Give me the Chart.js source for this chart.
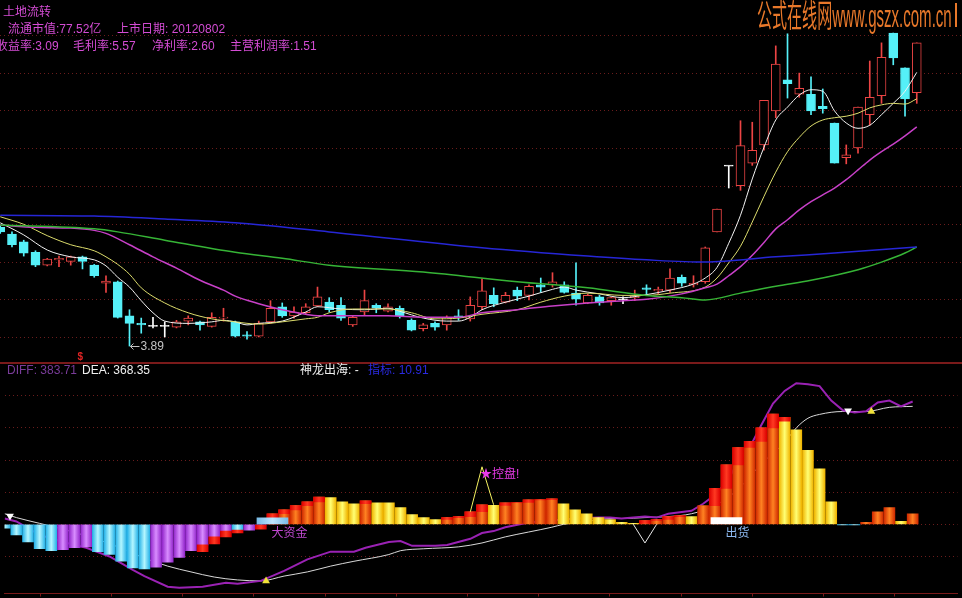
<!DOCTYPE html>
<html>
<head>
<meta charset="utf-8">
<script src="https://cdn.jsdelivr.net/npm/chart.js@4.4.1/dist/chart.umd.min.js"></script>
<style>
  body { margin: 0; background: #000; }
  #wrap { position: relative; width: 962px; height: 598px; background: #000; overflow: hidden;
          font-family: "Liberation Sans", "Noto Sans CJK SC", sans-serif; }
  #top { position: absolute; left: 0; top: 0; }
  #bot { position: absolute; left: 0; top: 364px; }
  #sep { position: absolute; left: 0; top: 362px; width: 962px; height: 2px; background: #7a1a1a; }
  .t { position: absolute; white-space: nowrap; font-size: 12px; line-height: 14px; }
  .hd { color: #d44cd4; }
  #wm { position: absolute; left: 757px; top: 0; font-size: 32px; line-height: 32px; color: #e8782a;
        white-space: nowrap; transform: scaleX(0.47); transform-origin: 0 0; }
  #wmbar { position: absolute; left: 955px; top: 3px; width: 2px; height: 24px; background: #e8782a; }
</style>
</head>
<body>
<div id="wrap">
  <canvas id="top" width="962" height="362"></canvas>
  <div id="sep"></div>
  <canvas id="bot" width="962" height="234"></canvas>

  <div class="t hd" style="left:3px;top:5px">土地流转</div>
  <div class="t hd" style="left:8px;top:22px">流通市值:77.52亿</div>
  <div class="t hd" style="left:117px;top:22px">上市日期: 20120802</div>
  <div class="t hd" style="left:-4px;top:39px">收益率:3.09</div>
  <div class="t hd" style="left:73px;top:39px">毛利率:5.57</div>
  <div class="t hd" style="left:152px;top:39px">净利率:2.60</div>
  <div class="t hd" style="left:230px;top:39px">主营利润率:1.51</div>
  <div id="wm">公式在线网www.gszx.com.cn</div>
  <div id="wmbar"></div>

  <div class="t" style="left:7px;top:363px;color:#7a3c9a">DIFF: 383.71</div>
  <div class="t" style="left:82px;top:363px;color:#f0f0f0">DEA: 368.35</div>
  <div class="t" style="left:300px;top:363px;color:#f0f0f0">神龙出海: -</div>
  <div class="t" style="left:368px;top:363px;color:#2a2ae0">指标: 10.91</div>

  <div class="t" id="lowTxt" style="color:#c4c4c4">3.89</div>
  <div class="t" id="sigTxt" style="color:#e02424;font-size:10px;font-weight:bold">$</div>
  <div class="t" id="kpTxt" style="color:#e83ae8">★控盘!</div>
  <div class="t" id="dzjTxt" style="color:#c048d0">大资金</div>
  <div class="t" id="chTxt" style="color:#8cb8f0">出货</div>
</div>

<script>
// daily candles
const open = [
  5.46, 5.37, 5.27, 5.13, 4.96, 5.03, 5.01, 5.07, 4.96, 4.72,
  4.74, 4.29, 4.19, 4.15, 4.15, 4.14, 4.22, 4.21, 4.15, 4.26,
  4.21, 4.04, 4.02, 4.21, 4.41, 4.29, 4.33, 4.42, 4.47, 4.43,
  4.17, 4.34, 4.43, 4.35, 4.39, 4.23, 4.12, 4.19, 4.17, 4.29,
  4.25, 4.41, 4.56, 4.47, 4.63, 4.56, 4.70, 4.70, 4.70, 4.59,
  4.46, 4.54, 4.49, 4.50, 4.53, 4.66, 4.62, 4.63, 4.80, 4.70,
  4.74, 5.40, 6.27, 6.01, 6.31, 6.55, 7.00, 7.41, 7.22, 7.22,
  7.06, 6.84, 6.38, 6.51, 6.95, 7.20, 8.03, 7.57, 7.24
];
const close = [
  5.40, 5.23, 5.12, 4.96, 5.04, 5.05, 5.07, 5.01, 4.82, 4.75,
  4.27, 4.19, 4.17, 4.15, 4.15, 4.21, 4.26, 4.17, 4.27, 4.27,
  4.02, 4.02, 4.19, 4.39, 4.29, 4.34, 4.41, 4.54, 4.37, 4.26,
  4.27, 4.49, 4.39, 4.41, 4.29, 4.10, 4.17, 4.14, 4.27, 4.27,
  4.43, 4.62, 4.45, 4.56, 4.55, 4.68, 4.67, 4.74, 4.60, 4.51,
  4.56, 4.46, 4.53, 4.50, 4.55, 4.64, 4.64, 4.79, 4.72, 4.72,
  5.19, 5.70, 6.27, 6.54, 6.48, 7.14, 7.62, 7.36, 7.30, 7.00,
  7.03, 6.31, 6.42, 7.05, 7.18, 7.71, 7.70, 7.16, 7.90
];
const high = [
  5.48, 5.40, 5.29, 5.15, 5.05, 5.08, 5.08, 5.08, 4.97, 4.82,
  4.75, 4.37, 4.26, 4.27, 4.21, 4.23, 4.29, 4.22, 4.33, 4.39,
  4.22, 4.08, 4.22, 4.49, 4.46, 4.41, 4.45, 4.67, 4.53, 4.53,
  4.29, 4.63, 4.45, 4.45, 4.42, 4.25, 4.19, 4.21, 4.29, 4.37,
  4.54, 4.78, 4.66, 4.60, 4.67, 4.70, 4.79, 4.86, 4.74, 4.99,
  4.58, 4.56, 4.54, 4.54, 4.63, 4.70, 4.67, 4.91, 4.83, 4.82,
  5.20, 5.70, 6.27, 6.87, 6.85, 7.14, 7.86, 8.02, 7.50, 7.45,
  7.29, 6.84, 6.55, 7.05, 7.66, 7.90, 8.03, 7.57, 7.90
];
const low = [
  5.38, 5.20, 5.08, 4.94, 4.95, 4.94, 4.96, 4.91, 4.80, 4.60,
  4.26, 3.89, 4.06, 4.13, 4.01, 4.13, 4.17, 4.10, 4.14, 4.22,
  4.01, 3.98, 4.01, 4.19, 4.27, 4.26, 4.31, 4.41, 4.34, 4.23,
  4.15, 4.30, 4.33, 4.34, 4.26, 4.09, 4.09, 4.10, 4.10, 4.23,
  4.22, 4.37, 4.41, 4.46, 4.49, 4.50, 4.60, 4.67, 4.59, 4.43,
  4.45, 4.43, 4.43, 4.45, 4.49, 4.56, 4.58, 4.60, 4.68, 4.67,
  4.72, 5.40, 5.98, 5.95, 6.28, 6.48, 6.91, 7.17, 7.18, 6.95,
  6.97, 6.31, 6.30, 6.44, 6.81, 7.10, 7.61, 6.93, 7.10
];

// moving averages as [day, price], read at the days where they bend
const ma5 = [[0,5.52],[2,5.36],[4,5.16],[6,5.07],[8,5.03],[9,4.95],[10,4.80],[11,4.67],[12,4.49],[13,4.33],
  [14,4.22],[16,4.19],[18,4.21],[19,4.23],[20,4.21],[21,4.17],[22,4.19],[24,4.22],[26,4.34],[27,4.41],
  [29,4.38],[31,4.37],[33,4.39],[34,4.35],[36,4.26],[38,4.22],[39,4.22],[40,4.27],[41,4.37],[43,4.47],
  [45,4.55],[47,4.64],[48,4.67],[49,4.63],[51,4.58],[53,4.53],[55,4.57],[57,4.63],[59,4.71],[60,4.79],
  [61,4.93],[62,5.25],[63,5.62],[64,6.10],[65,6.52],[66,6.88],[67,7.05],[68,7.21],[69,7.28],[70,7.26],
  [71,7.00],[72,6.84],[73,6.77],[74,6.81],[75,6.95],[76,7.10],[77,7.26],[78,7.51]];
const ma10 = [[0,5.60],[2,5.50],[4,5.35],[6,5.23],[8,5.15],[9,5.07],[10,4.97],[11,4.84],[12,4.66],[14,4.46],
  [16,4.33],[18,4.25],[20,4.21],[22,4.18],[24,4.21],[26,4.25],[27,4.27],[28,4.33],[30,4.38],[33,4.38],
  [35,4.33],[37,4.25],[39,4.26],[41,4.31],[44,4.37],[46,4.47],[48,4.55],[50,4.59],[53,4.56],[55,4.56],
  [57,4.59],[60,4.67],[61,4.79],[62,4.99],[63,5.21],[64,5.53],[65,5.87],[66,6.19],[67,6.46],[68,6.65],
  [69,6.80],[70,6.88],[71,6.91],[72,6.93],[73,6.97],[74,7.04],[75,7.08],[76,7.10],[77,7.09],[78,7.16]];
const ma20 = [[0,5.49],[3,5.46],[6,5.45],[8,5.42],[9,5.38],[11,5.23],[13,5.07],[15,4.92],[17,4.76],[19,4.63],
  [20,4.55],[22,4.45],[24,4.37],[26,4.31],[27,4.29],[33,4.29],[36,4.27],[39,4.27],[41,4.33],[44,4.37],
  [47,4.42],[50,4.46],[53,4.49],[55,4.51],[58,4.58],[60,4.66],[61,4.71],[62,4.82],[63,4.94],[64,5.09],
  [65,5.26],[66,5.44],[67,5.56],[68,5.69],[69,5.80],[70,5.89],[71,5.98],[72,6.09],[73,6.22],[74,6.35],
  [75,6.46],[76,6.56],[77,6.67],[78,6.79]];
const ma60 = [[0,5.49],[8,5.44],[10,5.40],[14,5.29],[20,5.13],[24,5.05],[28,4.96],[36,4.87],[44,4.74],[50,4.66],
  [55,4.56],[58,4.53],[60,4.50],[63,4.59],[66,4.68],[69,4.76],[73,4.90],[75,5.00],[77,5.12],[78,5.20]];
const ma120 = [[0,5.62],[8,5.61],[14,5.57],[20,5.52],[28,5.40],[41,5.19],[50,5.08],[55,5.03],[60,5.00],[66,5.07],
  [71,5.12],[78,5.20]];
const priceGrid = [4, 4.5, 5, 5.5, 6, 6.5, 7, 7.5, 8];

// lower panel: histogram, its colour kind (c cyan, v violet, o orange, y yellow) and red caps [day, from, to]
const hist = [
  -12, -33, -55, -76, -82, -79, -73, -70, -85, -94,
  -115, -136, -139, -133, -118, -103, -82, -64, -39, -21,
  -18, -18, -2, 33, 45, 58, 70, 85, 83, 70,
  64, 73, 67, 67, 52, 30, 21, 15, 21, 24,
  39, 61, 59, 67, 68, 76, 77, 79, 64, 45,
  33, 21, 15, 6, 3, 12, 15, 24, 27, 24,
  58, 112, 185, 239, 258, 300, 343, 333, 294, 230,
  173, 70, -1, -1, 6, 39, 52, 9, 33
];
const histKind = 'cccccvvvcccccvvvvvvvcvvoooooyyyoyyyyyyooooyoooooyyyyyyyooooyoooooooyyyyyccoooyo'.split('');
const histCaps = [[17,-64,-85],[18,-39,-61],[19,-21,-39],[20,-18,-27],[22,-2,-15],
  [23,0,33],[24,33,45],[25,45,58],[26,58,70],[27,70,85],[31,64,73],[38,15,21],[39,21,24],[40,24,39],[41,39,61],
  [43,59,67],[44,67,68],[45,68,76],[46,76,77],[47,77,79],[55,3,12],[56,12,15],[57,15,24],[58,24,27],
  [61,58,112],[62,112,185],[63,185,239],[64,239,258],[65,258,300],[66,300,343],[67,321,333]];
const bigMoney = [23, 20];   // 大资金
const shipOut = [62, 21];    // 出货
const diff = [[0,18],[1,9],[3,-33],[5,-55],[7,-73],[9,-100],[11,-142],[12,-161],[14,-194],[15,-197],
  [17,-194],[19,-182],[20,-185],[22,-176],[24,-145],[26,-109],[28,-85],[30,-85],[31,-73],[33,-55],
  [34,-52],[35,-67],[37,-67],[38,-64],[40,-45],[41,-27],[42,-21],[43,-9],[45,6],[47,12],[49,18],[51,21],
  [52,21],[53,18],[55,24],[56,21],[57,33],[59,42],[60,64],[61,91],[62,130],[63,194],[64,239],[65,309],
  [66,376],[67,415],[68,439],[69,436],[70,430],[71,385],[72,355],[73,348],[74,352],[75,379],[76,385],
  [77,367],[78,382]];
const dea = [[0,33],[1,21],[3,3],[6,-25],[9,-60],[12,-105],[14,-130],[16,-148],[18,-164],[20,-173],
  [22,-176],[24,-161],[26,-148],[28,-130],[30,-115],[33,-94],[34,-82],[36,-76],[39,-70],[41,-58],
  [43,-39],[45,-24],[47,-9],[48,0],[50,9],[52,18],[53,18],[55,21],[57,24],[59,33],[61,58],[63,109],
  [65,188],[67,255],[68,300],[69,330],[70,342],[72,351],[74,351],[76,364],[78,367]];
const kongPan = [[40,39],[41,179],[42,61]];
const dip = [[54,0],[55,-58],[56,0]];
const crossIdx = [0, 22, 72, 74];
const crossVal = [26, -176, 353, 351];
const crossUp = [false, true, false, true];
const macdGrid = [-100, 0, 100, 200, 300, 400];

// ---- drawing ----
const X_MIN = -0.02, X_MAX = 81.85;
const GRID = '#6a1c1c';
const UP = '#ec4444', DOWN = '#55f0f8', FLAT = '#ffffff';
const idx = open.map((_, i) => i);
const cColor = idx.map(i => close[i] > open[i] ? UP : (close[i] < open[i] ? DOWN : FLAT));
const pts = arr => arr.map(([x, y]) => ({ x, y }));

function line(data, color, w, order, smooth) {
  return { type: 'line', data: pts(data), borderColor: color, borderWidth: w, pointRadius: 0,
           cubicInterpolationMode: smooth ? 'monotone' : 'default', tension: 0, order };
}

const hiddenX = { type: 'linear', min: X_MIN, max: X_MAX, offset: false, display: false };

const lowMark = {
  id: 'lowMark',
  afterDatasetsDraw(chart) {
    const i = low.indexOf(Math.min(...low));
    const x = chart.scales.x.getPixelForValue(i), y = Math.round(chart.scales.y.getPixelForValue(low[i])) + 0.5;
    const ctx = chart.ctx;
    ctx.save();
    ctx.strokeStyle = '#c4c4c4';
    ctx.lineWidth = 1;
    ctx.beginPath();
    ctx.moveTo(x + 1, y); ctx.lineTo(x + 10, y);
    ctx.moveTo(x + 4, y - 3); ctx.lineTo(x + 1, y); ctx.lineTo(x + 4, y + 3);
    ctx.stroke();
    ctx.restore();
  }
};

const topChart = new Chart(document.getElementById('top'), {
  type: 'bar',
  data: { datasets: [
    line(ma120, '#2626d6', 1.5, 0, true),
    line(ma60, '#36b436', 1.5, 0, true),
    line(ma20, '#c840c8', 1.5, 0, true),
    line(ma10, '#dcdc6c', 1, 0, true),
    line(ma5, '#f2f2f2', 1, 0, true),
    { data: idx.map(i => ({ x: i, y: [open[i], close[i]] })),
      backgroundColor: idx.map(i => close[i] > open[i] ? '#000000' : cColor[i]),
      borderColor: cColor, borderWidth: 1, borderSkipped: false,
      barThickness: 9, minBarLength: 1, grouped: false, order: 1 },
    { data: idx.map(i => ({ x: i, y: [low[i], high[i]] })),
      backgroundColor: cColor, barThickness: 1, grouped: false, order: 2 }
  ]},
  options: {
    responsive: false, animation: false, events: [], devicePixelRatio: 1,
    layout: { padding: 0 },
    plugins: { legend: { display: false }, tooltip: { enabled: false } },
    scales: {
      x: hiddenX,
      y: { min: 3.679, max: 8.467,
           grid: { color: GRID, drawTicks: false }, border: { display: false, dash: [1, 3] },
           ticks: { display: false },
           afterBuildTicks: s => { s.ticks = priceGrid.map(v => ({ value: v })); } }
    }
  },
  plugins: [lowMark]
});

function cyl(edge, mid, w) {
  return c => {
    if (c.type !== 'data' || !c.chart.chartArea) return edge;
    const x = c.chart.scales.x.getPixelForValue(c.raw.x);
    const g = c.chart.ctx.createLinearGradient(x - w / 2, 0, x + w / 2, 0);
    g.addColorStop(0, edge); g.addColorStop(0.5, mid); g.addColorStop(1, edge);
    return g;
  };
}
const kindFill = {
  c: cyl('#26b2e8', '#b4f6ff', 11),
  v: cyl('#9428cc', '#d88cff', 11),
  o: cyl('#d02a00', '#ff8222', 11),
  y: cyl('#f0b400', '#ffff74', 11)
};

const botChart = new Chart(document.getElementById('bot'), {
  type: 'bar',
  data: { datasets: [
    line(dea, '#d8d8d8', 1, 6, true),
    line(diff, '#9a22b4', 2, 5, false),
    { data: idx.map(i => ({ x: i, y: hist[i] })),
      backgroundColor: c => c.type === 'data' ? kindFill[histKind[c.dataIndex]](c) : '#000',
      barThickness: 11, grouped: false, order: 4 },
    { data: histCaps.map(([i, a, b]) => ({ x: i, y: [a, b] })),
      backgroundColor: cyl('#dc0000', '#ff3a22', 11), barThickness: 11, grouped: false, order: 3 },
    { data: [{ x: bigMoney[0], y: [0, bigMoney[1]] }], backgroundColor: cyl('#78bce8', '#bfe6ff', 31),
      barThickness: 31, grouped: false, order: 2 },
    { data: [{ x: shipOut[0], y: [0, shipOut[1]] }], backgroundColor: '#ffffff',
      barThickness: 31, grouped: false, order: 2 },
    line(kongPan, '#f4f060', 1, 1, false),
    line(dip, '#e8e8e8', 1, 1, false),
    { type: 'line', showLine: false, order: 0,
      data: crossIdx.map((d, k) => ({ x: d + 0.45, y: crossVal[k] })),
      pointStyle: 'triangle', pointRadius: 4.5, pointBorderWidth: 0,
      pointRotation: crossUp.map(u => u ? 0 : 180),
      pointBackgroundColor: crossUp.map(u => u ? '#f2e23a' : '#ffffff') }
  ]},
  options: {
    responsive: false, animation: false, events: [], devicePixelRatio: 1,
    layout: { padding: 0 },
    plugins: { legend: { display: false }, tooltip: { enabled: false } },
    scales: {
      x: { type: 'linear', min: X_MIN, max: X_MAX, offset: false,
           grid: { drawOnChartArea: false, drawTicks: true, tickLength: 3, color: '#7a1a1a' },
           border: { display: true, color: '#7a1a1a', width: 1 },
           ticks: { display: false },
           afterBuildTicks: s => {
             s.ticks = [];
             for (let k = 1; k * 71.9 < 962; k++) s.ticks.push({ value: X_MIN + k * 71.9 / 11.75 });
           } },
      y: { min: -215.2, max: 484.8,
           grid: { color: GRID, drawTicks: false }, border: { display: false, dash: [1, 3] },
           ticks: { display: false },
           afterBuildTicks: s => { s.ticks = macdGrid.map(v => ({ value: v })); } }
    }
  }
});

// text marks placed through the scales
function place(id, chart, xv, yv, dx, dy) {
  const el = document.getElementById(id);
  el.style.left = (chart.scales.x.getPixelForValue(xv) + dx) + 'px';
  el.style.top = (chart.canvas.offsetTop + chart.scales.y.getPixelForValue(yv) + dy) + 'px';
}
const lowIdx = low.indexOf(Math.min(...low));
place('lowTxt', topChart, lowIdx, low[lowIdx], 11, -7);
place('sigTxt', topChart, 7, 3.72, -5, -9);
place('kpTxt', botChart, kongPan[1][0], kongPan[1][1], -2, 0);
place('dzjTxt', botChart, bigMoney[0], 0, -1, 2);
place('chTxt', botChart, shipOut[0], 0, -1, 2);
</script>
</body>
</html>
